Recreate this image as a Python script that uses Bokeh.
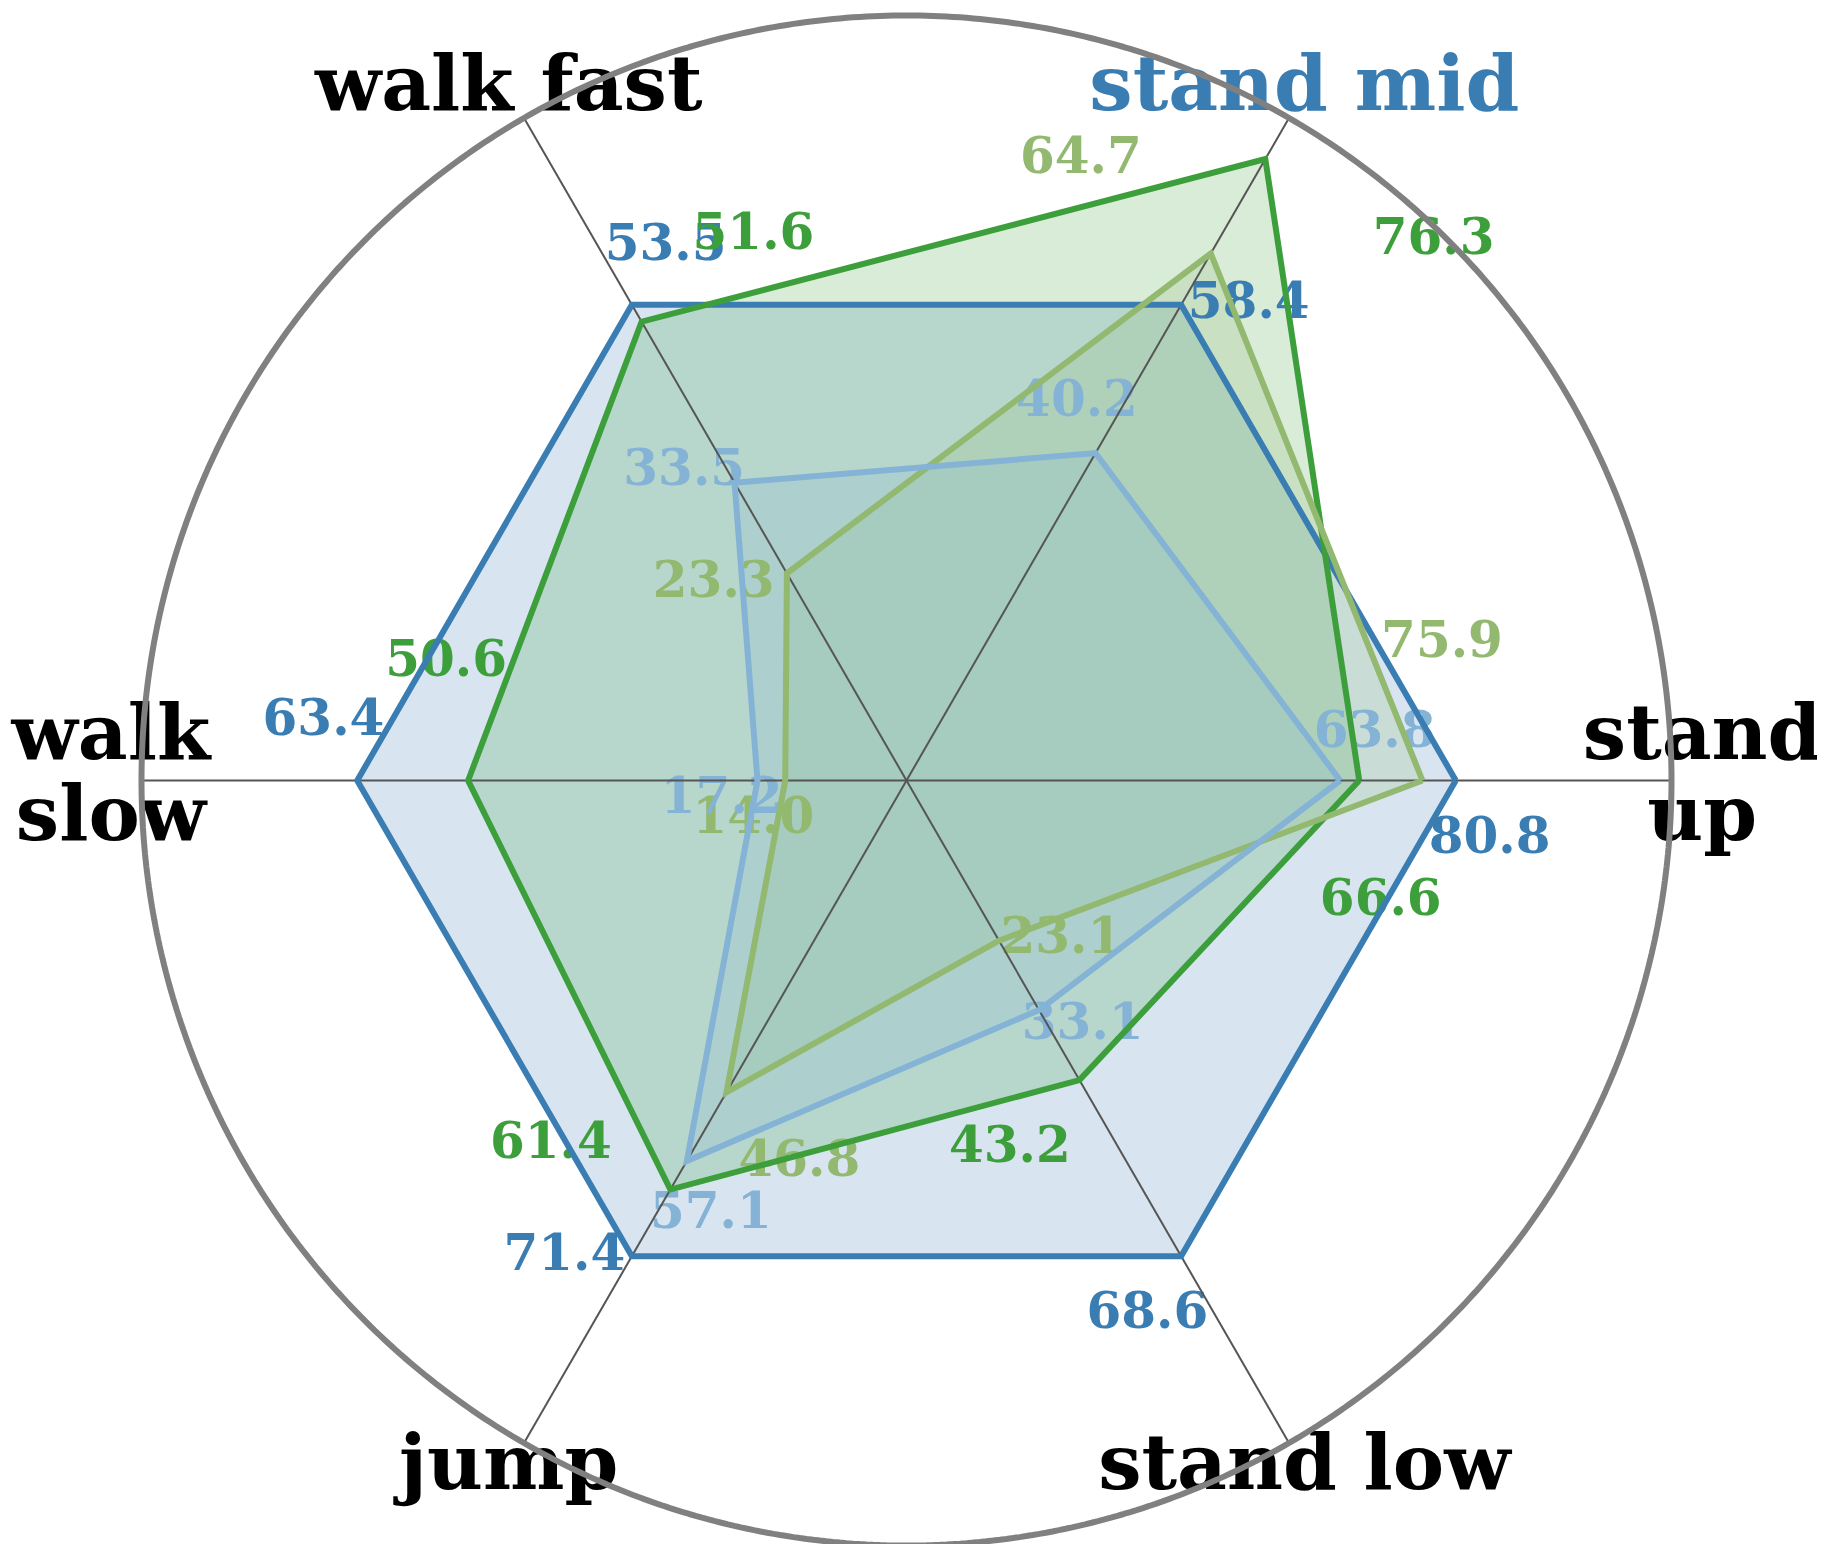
import numpy as np
from bokeh.plotting import figure
from bokeh.models import Range1d
from bokeh.core.properties import value
from bokeh.embed import file_html
from bokeh.resources import INLINE

# ---- data ----
categories = ["stand up", "stand mid", "walk fast", "walk slow", "jump", "stand low"]
category_labels = ["stand\nup", "stand mid", "walk fast", "walk\nslow", "jump", "stand low"]
category_colors = ["black", "#3a7db3", "black", "black", "black", "black"]

series_blue = [80.8, 58.4, 53.5, 63.4, 71.4, 68.6]
series_green = [66.6, 76.3, 51.6, 50.6, 61.4, 43.2]
series_lightgreen = [75.9, 64.7, 23.3, 14.0, 46.8, 23.1]
series_lightblue = [63.8, 40.2, 33.5, 17.2, 57.1, 33.1]

# ---- styling / geometry ----
W, H = 1817, 1544
CX, CY, R = 906.0, 780.0, 765.0  # centre and outer radius in canvas px
REF_R = 0.718                    # radius of the reference (blue) series
LABEL_DR = 0.048
CAT_R = 1.04

series = [
    (series_blue, "#3a7db3", -0.10),
    (series_green, "#3d9f3b", -0.25),
    (series_lightgreen, "#93b86f", 0.25),
    (series_lightblue, "#84b3d6", 0.10),
]

n = len(categories)
theta = np.arange(n) * 2 * np.pi / n
ref = np.array(series_blue, dtype=float)

p = figure(width=W, height=H, output_backend="svg", toolbar_location=None,
           x_range=Range1d(-CX / R, (W - CX) / R),
           y_range=Range1d(-(H - CY) / R, CY / R),
           min_border=0)
p.axis.visible = False
p.grid.visible = False
p.outline_line_color = None
p.background_fill_color = "white"
p.border_fill_color = "white"

coords = []
for vals, color, d in series:
    v = np.array(vals, dtype=float)
    r = v / ref * REF_R
    xs = r * np.cos(theta)
    ys = r * np.sin(theta)
    coords.append((xs, ys, r, v, color, d))

# fills
for xs, ys, r, v, color, d in coords:
    p.patch(list(xs), list(ys), fill_color=color, fill_alpha=0.2, line_color=None)

# value labels
for xs, ys, r, v, color, d in coords:
    lr = r + LABEL_DR
    lx = lr * np.cos(theta + d)
    ly = lr * np.sin(theta + d)
    p.text(x=list(lx), y=list(ly), text=[f"{val:.1f}" for val in v],
           text_font=value("DejaVu Serif"), text_font_style="bold",
           text_font_size="50px", text_align="center", text_baseline="middle",
           text_color=color, y_offset=-5)

# category labels
p.text(x=list(CAT_R * np.cos(theta)), y=list(CAT_R * np.sin(theta)),
       text=category_labels, text_color=category_colors,
       text_font=value("DejaVu Serif"), text_font_style="bold",
       text_font_size="77px", text_align="center", text_baseline="middle",
       text_line_height=0.9, y_offset=-8)

# spokes
p.segment(x0=[0] * n, y0=[0] * n, x1=list(np.cos(theta)), y1=list(np.sin(theta)),
          line_color="#555555", line_width=2)

# outer circle
ang = np.linspace(0, 2 * np.pi, 721)
p.line(list(np.cos(ang)), list(np.sin(ang)), line_color="#808080", line_width=6)

# series outlines
for xs, ys, r, v, color, d in coords:
    p.line(list(xs) + [xs[0]], list(ys) + [ys[0]], line_color=color,
           line_width=6, line_join="miter")

open("out.html", "w").write(file_html(p, INLINE))
